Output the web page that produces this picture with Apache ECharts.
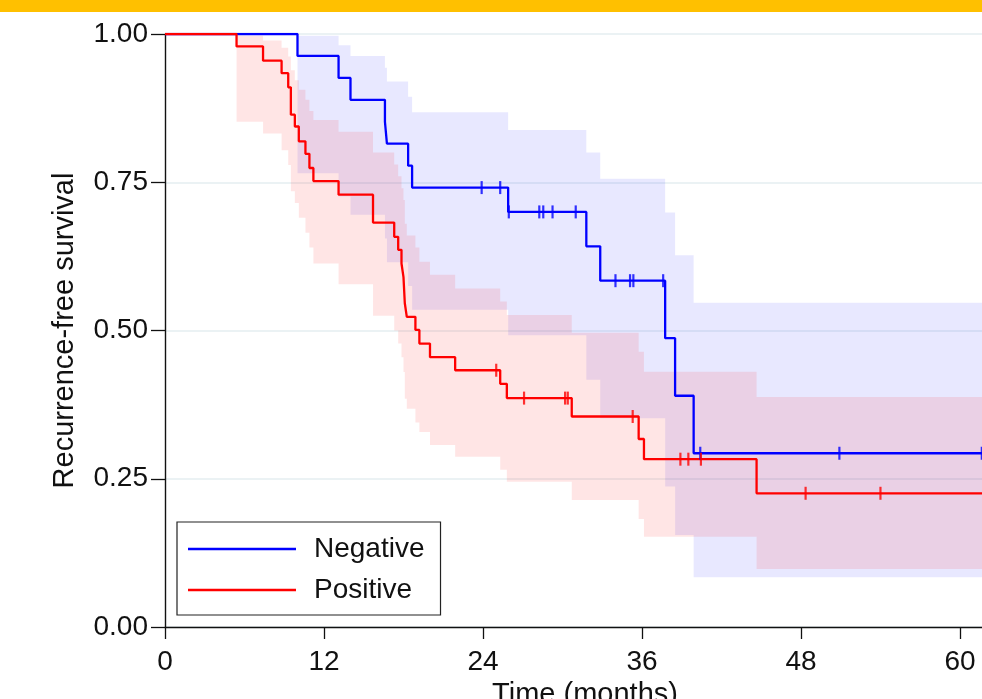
<!DOCTYPE html>
<html><head><meta charset="utf-8">
<script src="https://cdn.jsdelivr.net/npm/echarts@6/dist/echarts.min.js"></script>
<style>html,body{margin:0;padding:0;background:#fff;}#c{width:982px;height:699px;}</style>
</head><body><div id="c"></div>
<script>
// ---- data ----
const xTickValues = [0, 12, 24, 36, 48, 60];
const yTickValues = [0, 0.25, 0.5, 0.75, 1];
const seriesNames = ['Negative', 'Positive'];
const endTime = 62.5;

const negTimes = [10.0, 13.1, 14.0, 16.6, 16.75, 18.35, 18.65, 25.9, 31.8, 32.85, 37.75, 38.5, 39.9];
const negSurv  = [0.963, 0.926, 0.889, 0.852, 0.815, 0.778, 0.741, 0.700, 0.642, 0.584, 0.487, 0.390, 0.293];
const negUpper = [0.997, 0.981, 0.963, 0.943, 0.920, 0.894, 0.868, 0.838, 0.800, 0.756, 0.699, 0.627, 0.547];
const negLower = [0.765, 0.726, 0.695, 0.655, 0.615, 0.575, 0.535, 0.492, 0.417, 0.352, 0.237, 0.155, 0.084];
const negCensor = [23.9, 25.3, 25.95, 28.25, 28.55, 29.25, 31.0, 34.0, 35.1, 35.35, 37.6, 40.4, 50.9, 61.65];

const posTimes = [5.4, 7.4, 8.8, 9.3, 9.5, 9.8, 10.1, 10.6, 10.9, 11.2, 13.1, 15.7, 17.3, 17.6, 17.85, 18.0, 18.1, 18.25, 18.9, 19.2, 20.0, 21.9, 25.3, 25.8, 30.7, 35.75, 36.15, 44.65];
const posSurv  = [0.979, 0.955, 0.934, 0.910, 0.864, 0.844, 0.819, 0.798, 0.774, 0.752, 0.729, 0.682, 0.658, 0.636, 0.613, 0.590, 0.546, 0.523, 0.501, 0.478, 0.455, 0.433, 0.410, 0.386, 0.355, 0.317, 0.283, 0.2255];
const posUpper = [0.997, 0.989, 0.977, 0.962, 0.939, 0.922, 0.906, 0.889, 0.870, 0.855, 0.835, 0.800, 0.780, 0.760, 0.740, 0.720, 0.680, 0.660, 0.640, 0.616, 0.594, 0.571, 0.549, 0.526, 0.496, 0.464, 0.4305, 0.388];
const posLower = [0.852, 0.832, 0.804, 0.779, 0.735, 0.715, 0.690, 0.665, 0.640, 0.613, 0.578, 0.525, 0.500, 0.478, 0.455, 0.430, 0.385, 0.368, 0.345, 0.329, 0.307, 0.287, 0.265, 0.245, 0.214, 0.182, 0.152, 0.098];
const posCensor = [25.0, 27.1, 30.2, 30.4, 35.3, 38.9, 39.5, 40.45, 48.35, 54.0];

// ---- helpers ----
function kmSteps(times, vals) {
  const pts = [[0, 1]];
  let prev = 1;
  times.forEach((t, i) => { pts.push([t, prev]); pts.push([t, vals[i]]); prev = vals[i]; });
  pts.push([endTime, prev]);
  return pts;
}
function bandSteps(times, vals) {
  const pts = [];
  times.forEach((t, i) => {
    if (i > 0) pts.push([t, vals[i - 1]]);
    pts.push([t, vals[i]]);
  });
  pts.push([endTime, vals[vals.length - 1]]);
  return pts;
}
function survAt(times, vals, t) { let s = 1; times.forEach((tt, i) => { if (tt <= t) s = vals[i]; }); return s; }

const BLUE = '#0000ff', RED = '#ff0000';
const FONT = 'Liberation Sans, Arial, sans-serif';

function bandSeries(id, times, lo, up, color) {
  const upPts = bandSteps(times, up);
  const loPts = bandSteps(times, lo).reverse();
  const poly = upPts.concat(loPts);
  return {
    name: id, type: 'custom', silent: true, z: 1, clip: true,
    data: poly,
    renderItem: function (params, api) {
      if (params.dataIndex !== 0) return null;
      const points = poly.map(p => api.coord(p));
      return { type: 'polygon', shape: { points: points }, style: { fill: color } };
    }
  };
}

const chart = echarts.init(document.getElementById('c'), null, { renderer: 'canvas' });
chart.setOption({
  animation: false,
  backgroundColor: '#ffffff',
  graphic: [{ type: 'rect', left: 0, top: 0, shape: { width: 982, height: 12 }, style: { fill: '#FFC000' }, z: 100 }],
  grid: { left: 165, top: 34, bottom: 72, right: -23, containLabel: false, outerBoundsMode: 'none' },
  xAxis: {
    type: 'value', min: 0, max: 63.4, interval: 12,
    name: 'Time (months)', nameLocation: 'middle', nameGap: 48,
    nameTextStyle: { fontFamily: FONT, fontSize: 29, color: '#111' },
    axisLine: { lineStyle: { color: '#111', width: 1.4 } },
    axisTick: { length: 12, lineStyle: { color: '#111', width: 1.3 } },
    axisLabel: { fontFamily: FONT, fontSize: 28, color: '#111', margin: 21, showMaxLabel: false,
      formatter: v => xTickValues.includes(v) ? String(v) : '' },
    splitLine: { show: false }
  },
  yAxis: {
    type: 'value', min: 0, max: 1, interval: 0.25,
    name: 'Recurrence-free survival', nameLocation: 'middle', nameGap: 86,
    nameTextStyle: { fontFamily: FONT, fontSize: 29, color: '#111' },
    axisLine: { show: true, lineStyle: { color: '#111', width: 1.4 } },
    axisTick: { show: true, length: 14, lineStyle: { color: '#111', width: 1.3 } },
    axisLabel: { fontFamily: FONT, fontSize: 28, color: '#111', margin: 17,
      formatter: v => yTickValues.includes(v) ? v.toFixed(2) : '' },
    splitLine: { show: true, lineStyle: { color: '#e4eef1', width: 1.5 } }
  },
  legend: {
    data: seriesNames.map(n => ({ name: n, icon: 'rect' })), orient: 'vertical', left: 177, top: 522,
    padding: [12, 16, 10, 11], itemGap: 11, itemWidth: 108, itemHeight: 2.5,
    borderColor: '#222', borderWidth: 1.2, backgroundColor: '#fff',
    textStyle: { fontFamily: FONT, fontSize: 28, color: '#111', lineHeight: 30, padding: [0, 0, 0, 13] }
  },
  series: [
    bandSeries('negBand', negTimes, negLower, negUpper, 'rgba(0,0,255,0.09)'),
    bandSeries('posBand', posTimes, posLower, posUpper, 'rgba(255,0,0,0.10)'),
    { name: seriesNames[0], type: 'line', data: kmSteps(negTimes, negSurv), symbol: 'none',
      lineStyle: { color: BLUE, width: 2.3 }, itemStyle: { color: BLUE }, z: 3 },
    { name: seriesNames[1], type: 'line', data: kmSteps(posTimes, posSurv), symbol: 'none',
      lineStyle: { color: RED, width: 2.3 }, itemStyle: { color: RED }, z: 4 },
    { name: 'negCens', type: 'scatter', data: negCensor.map(t => [t, survAt(negTimes, negSurv, t)]),
      symbol: 'rect', symbolSize: [2.2, 13], itemStyle: { color: BLUE }, z: 5, silent: true },
    { name: 'posCens', type: 'scatter', data: posCensor.map(t => [t, survAt(posTimes, posSurv, t)]),
      symbol: 'rect', symbolSize: [2.2, 13], itemStyle: { color: RED }, z: 6, silent: true }
  ]
});
</script></body></html>
